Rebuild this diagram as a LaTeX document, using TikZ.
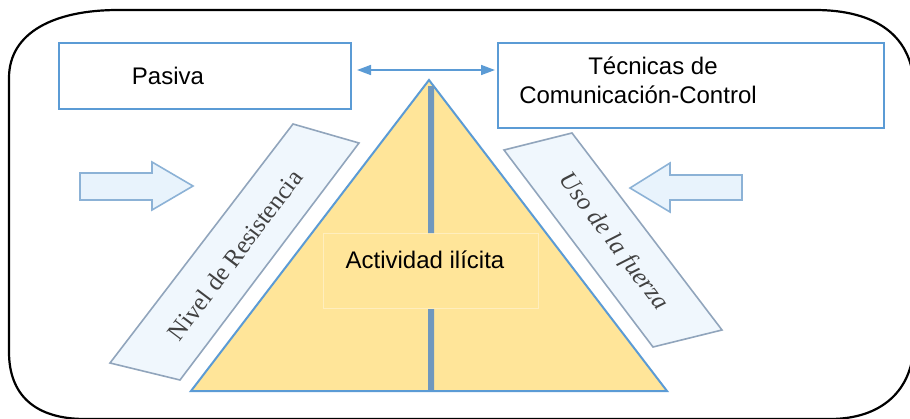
\documentclass[tikz,border=0pt]{standalone}
\usepackage{fontspec}
\setmainfont{Liberation Sans}
\newfontfamily\bandserif{Liberation Serif}
\usetikzlibrary{arrows.meta}
\definecolor{boxblue}{RGB}{91,155,213}
\definecolor{pyrfill}{RGB}{255,229,153}
\definecolor{spineblue}{RGB}{112,152,190}
\definecolor{actedge}{RGB}{255,238,190}
\definecolor{bandfill}{RGB}{240,247,253}
\definecolor{bandedge}{RGB}{145,165,188}
\definecolor{bandink}{RGB}{65,65,65}
\definecolor{arrowfill}{RGB}{232,243,252}
\definecolor{arrowedge}{RGB}{140,178,214}

\begin{document}
\begin{tikzpicture}[x=0.5pt,y=-0.5pt,
  rectbox/.style={draw=boxblue,line width=1pt,inner sep=0pt,anchor=north west},
  txt/.style={font=\fontsize{12}{14.5}\selectfont,inner sep=0pt},
  band/.style={draw=bandedge,fill=bandfill,line width=0.8pt},
  bandtxt/.style={font=\bandserif\fontsize{12.5}{14}\selectfont,text=bandink,inner sep=0pt},
  blockarrow/.style={draw=arrowedge,fill=arrowfill,line width=0.8pt}]
\useasboundingbox (0,0) rectangle (910,418);

% outer frame
\draw[line width=1.1pt] (9,78) .. controls (9,32) and (55,10) .. (118,10) -- (815,10)
  .. controls (875,10) and (914,35) .. (914,90) -- (914,340)
  .. controls (914,392) and (880,419) .. (830,419) -- (85,419)
  .. controls (35,419) and (9,395) .. (9,352) -- cycle;

% top boxes
\node[rectbox,minimum width=146pt,minimum height=33pt] (pasiva) at (58,42) {};
\node[txt] (pasivatxt) at (168,76) {Pasiva};
\node[rectbox,minimum width=193pt,minimum height=42.5pt] (tecnicas) at (497,42) {};
\node[txt,align=center] (tecnicastxt) at (638,80) {\hspace*{15pt}Técnicas de\\Comunicación-Control};

\coordinate (arrowy) at (0,70);
\draw[boxblue,line width=0.8pt,{Triangle[length=7pt,width=5pt]}-{Triangle[length=7pt,width=5pt]},
  shorten <=2.5pt,shorten >=1pt] (pasiva.east |- arrowy) -- (tecnicas.west |- arrowy);

% pyramid
\coordinate (apex) at (429,80);
\coordinate (baseL) at (191,391);
\coordinate (baseR) at (667,391);
\coordinate (top) at (431,86);
\coordinate (baseM) at (431,390);
\draw[boxblue,fill=pyrfill,line width=1pt] (apex) -- (baseR) -- (baseL) -- cycle;

\node[draw=actedge,line width=0.6pt,inner sep=0pt,anchor=north west,
  minimum width=107.5pt,minimum height=37.5pt] (actividad) at (323,233) {};
\node[txt] (actividadtxt) at (425,260) {Actividad ilícita};

\draw[spineblue,line width=3pt] (top) -- (actividad.north);
\draw[spineblue,line width=3pt] (actividad.south) -- (baseM);

% side bands
\draw[band] (293,124) -- (359,143) -- (180,380) -- (110,363) -- cycle;
\node[bandtxt,rotate=53] (nivel) at (235,255) {Nivel de Resistencia};
\draw[band] (504,150) -- (572,133) -- (722,330) -- (653,347) -- cycle;
\node[bandtxt,rotate=-53] (uso) at (613,242) {\itshape Uso de la fuerza};

% block arrows
\draw[blockarrow] (80,173) -- (152,173) -- (152,162) -- (193,186) -- (152,210) -- (152,200) -- (80,200) -- cycle;
\draw[blockarrow] (742,175) -- (670,175) -- (670,163) -- (630,188) -- (670,212) -- (670,200) -- (742,200) -- cycle;
\end{tikzpicture}
\end{document}
